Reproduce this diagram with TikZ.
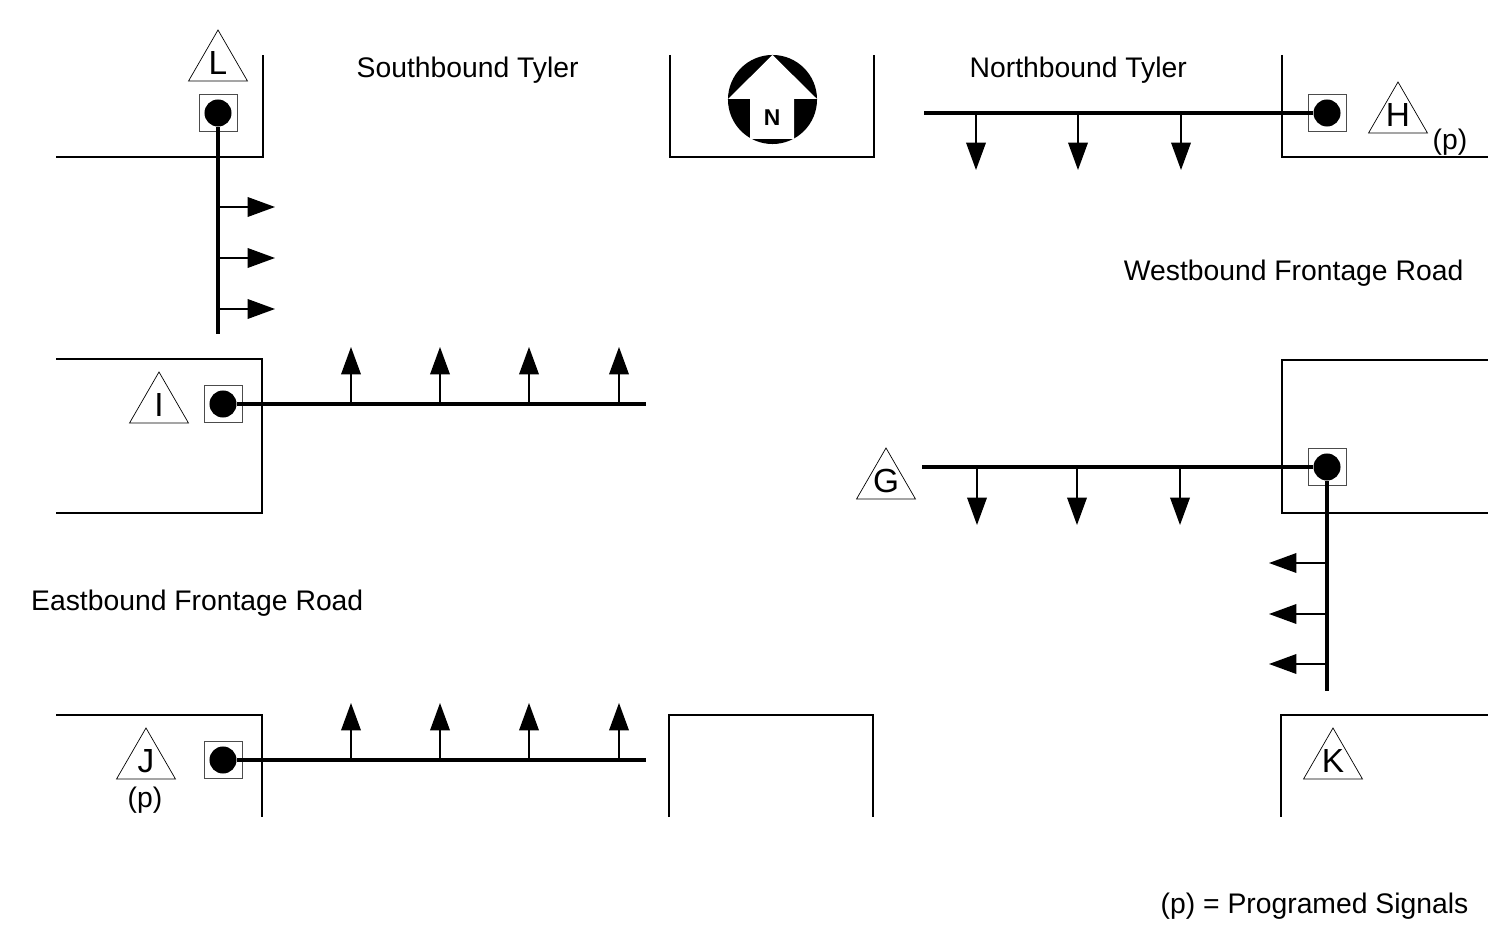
\documentclass[tikz,border=0pt]{standalone}
\usepackage{fontspec}
\setmainfont{Liberation Sans}
\usetikzlibrary{arrows.meta,shapes.geometric}

\begin{document}
\begin{tikzpicture}[x=.01cm,y=-.01cm,
	curb/.style={line width=.45pt},
	bar/.style={line width=.95pt},
	tick/.style={line width=.4pt,-{Triangle[length=7.8pt,width=5.6pt]}},
	sign/.style={draw,line width=.2pt,regular polygon,regular polygon sides=3,minimum size=.68cm,inner sep=0pt},
	boxed/.style={draw,black!70,line width=.2pt,minimum width=.38cm,minimum height=.37cm,inner sep=0pt},
	lamp/.style={circle,fill=black,minimum size=.27cm,inner sep=0pt},
	word/.style={font=\fontsize{8.05}{10}\selectfont,inner sep=0pt}]
	\useasboundingbox (0,0) rectangle (1488,952);

	% curbs
	\draw[curb] (56,157) -- (263,157) -- (263,55);
	\draw[curb] (670,55) -- (670,157) -- (874,157) -- (874,55);
	\draw[curb] (1282,55) -- (1282,157) -- (1488,157);
	\draw[curb] (56,359) -- (262,359) -- (262,513) -- (56,513);
	\draw[curb] (1488,360) -- (1282,360) -- (1282,513) -- (1488,513);
	\draw[curb] (56,715) -- (262,715) -- (262,817);
	\draw[curb] (669,817) -- (669,715) -- (873,715) -- (873,817);
	\draw[curb] (1488,715) -- (1281,715) -- (1281,817);

	% signals
	\foreach \n/\x/\y in {L/218/113, H/1327/113, I/223/404, J/223/760, G/1327/467}{
		\node[boxed] (box\n) at (\x,\y) {};
		\node[lamp] (lamp\n) at (\x,\y) {};
	}

	% triangles
	\foreach \n/\x/\y in {L/218/64, H/1398/116, I/159/406, J/146/762, G/886/482, K/1333/762}{
		\node[sign] (sign\n) at (\x,\y) {};
		\node[word,font=\fontsize{9.5}{10}\selectfont] (name\n) at (\x,\y-1) {\n};
	}

	% ends of the mast arms
	\coordinate (endL) at (218,334);
	\coordinate (endH) at (924,113);
	\coordinate (endI) at (646,404);
	\coordinate (endJ) at (646,760);
	\coordinate (endG) at (922,467);
	\coordinate (endK) at (1327,691);

	\draw[bar] (lampL) -- (endL);
	\draw[bar] (lampH) -- (endH);
	\draw[bar] (lampI) -- (endI);
	\draw[bar] (lampJ) -- (endJ);
	\draw[bar] (lampG) -- (endG);
	\draw[bar] (lampG) -- (endK);

	% arrows
	\foreach \y in {207,258,309}{
		\coordinate (a) at (218,\y);
		\coordinate (b) at (275,\y);
		\draw[tick] (a) -- (b);
	}
	\foreach \x in {976,1078,1181}{
		\coordinate (a) at (\x,113);
		\coordinate (b) at (\x,170);
		\draw[tick] (a) -- (b);
	}
	\foreach \x in {351,440,529,619}{
		\coordinate (a) at (\x,404);
		\coordinate (b) at (\x,347);
		\draw[tick] (a) -- (b);
		\coordinate (a) at (\x,760);
		\coordinate (b) at (\x,703);
		\draw[tick] (a) -- (b);
	}
	\foreach \x in {977,1077,1180}{
		\coordinate (a) at (\x,467);
		\coordinate (b) at (\x,525);
		\draw[tick] (a) -- (b);
	}
	\foreach \y in {563,614,664}{
		\coordinate (a) at (1327,\y);
		\coordinate (b) at (1269,\y);
		\draw[tick] (a) -- (b);
	}

	% north arrow
	\fill (772.5,99.5) circle (.445cm);
	\fill[white] (772.5,55) -- (817,99) -- (794,99) -- (794,139) -- (750,139) -- (750,99) -- (728,99) -- cycle;
	\node[word,font=\fontsize{6.5}{8}\bfseries\selectfont] (north) at (772,118) {N};

	% text
	\node[word,anchor=west] (south) at (356,70) {Southbound Tyler};
	\node[word,anchor=west] (northb) at (969,70) {Northbound Tyler};
	\node[word,anchor=east] (west) at (1464,273) {Westbound Frontage Road};
	\node[word,anchor=east] (east) at (364,603) {Eastbound Frontage Road};
	\node[word] (progH) at (1450,142) {(p)};
	\node[word] (progJ) at (145,800) {(p)};
	\node[word,anchor=east] (legend) at (1469,906) {(p) = Programed Signals};
\end{tikzpicture}
\end{document}
